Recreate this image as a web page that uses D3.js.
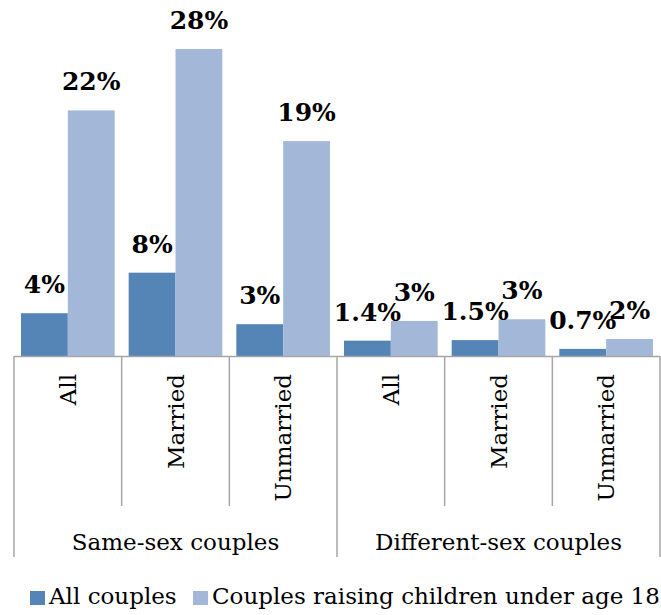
<!DOCTYPE html>
<html>
<head>
<meta charset="utf-8">
<script src="https://cdn.jsdelivr.net/npm/d3@7"></script>
<style>
  body { margin: 0; background: #fff; }
  svg { display: block; }
</style>
</head>
<body>
<div id="chart"></div>
<script>
// groups and categories along the x axis
const groups = ["Same-sex couples", "Different-sex couples"];
const categories = ["All", "Married", "Unmarried", "All", "Married", "Unmarried"];
const seriesNames = ["All couples", "Couples raising children under age 18"];

// bar heights (percent)
const allCouples = [3.9, 7.6, 2.9, 1.4, 1.45, 0.65];
const raisingKids = [22.4, 28.0, 19.6, 3.2, 3.35, 1.55];

// labels printed above the bars
const allLabels = ["4%", "8%", "3%", "1.4%", "1.5%", "0.7%"];
const kidsLabels = ["22%", "28%", "19%", "3%", "3%", "2%"];

const colors = ["#5585b6", "#a3b8d9"];

const width = 661, height = 615;
const left = 14, right = 660, baseY = 356;
const serif = "Georgia, 'DejaVu Serif', serif";

const svg = d3.select("#chart").append("svg")
  .attr("width", width)
  .attr("height", height);

const x0 = d3.scaleBand()
  .domain(d3.range(categories.length))
  .range([left, right]);

const x1 = d3.scaleBand()
  .domain([0, 1])
  .range([7, x0.bandwidth() - 7]);

const y = d3.scaleLinear()
  .domain([0, 28])
  .range([baseY, 49]);

const rows = categories.map((c, i) => ({
  i: i,
  vals: [allCouples[i], raisingKids[i]],
  labs: [allLabels[i], kidsLabels[i]]
}));

const cat = svg.selectAll("g.cat")
  .data(rows)
  .enter()
  .append("g")
  .attr("class", "cat")
  .attr("transform", d => "translate(" + x0(d.i) + ",0)");

cat.selectAll("rect")
  .data(d => d.vals.map((v, s) => ({ v: v, s: s })))
  .enter()
  .append("rect")
  .attr("x", d => x1(d.s))
  .attr("y", d => y(d.v))
  .attr("width", x1.bandwidth())
  .attr("height", d => baseY - y(d.v))
  .attr("fill", d => colors[d.s]);

// value labels
cat.selectAll("text.val")
  .data(d => d.vals.map((v, s) => ({ v: v, s: s, lab: d.labs[s] })))
  .enter()
  .append("text")
  .attr("class", "val")
  .attr("x", d => x1(d.s) + x1.bandwidth() / 2)
  .attr("y", d => y(d.v) - 20)
  .attr("text-anchor", "middle")
  .style("font-family", serif)
  .style("font-weight", "bold")
  .style("font-size", "25px")
  .attr("fill", "#000")
  .text(d => d.lab);

// axis line
const lineColor = "#a6a6a6";
svg.append("line")
  .attr("x1", left).attr("x2", right)
  .attr("y1", baseY + 0.5).attr("y2", baseY + 0.5)
  .attr("stroke", lineColor).attr("stroke-width", 1.5);

// dividers: inner ones short, group boundaries long
d3.range(categories.length + 1).forEach(k => {
  const xx = k < categories.length ? x0(k) : right;
  const outer = k % 3 === 0;
  svg.append("line")
    .attr("x1", xx).attr("x2", xx)
    .attr("y1", baseY).attr("y2", outer ? 557 : 506)
    .attr("stroke", lineColor).attr("stroke-width", 1.5);
});

// category labels, rotated
svg.selectAll("text.cat")
  .data(categories)
  .enter()
  .append("text")
  .attr("class", "cat")
  .attr("transform", (d, i) => "translate(" + (x0(i) + x0.bandwidth() / 2 + 8) + ",374) rotate(-90)")
  .attr("text-anchor", "end")
  .style("font-family", serif)
  .style("font-size", "23px")
  .attr("fill", "#000")
  .text(d => d);

// group labels
svg.selectAll("text.grp")
  .data(groups)
  .enter()
  .append("text")
  .attr("class", "grp")
  .attr("x", (d, g) => (x0(g * 3) + (g === 1 ? right : x0(3))) / 2)
  .attr("y", 550)
  .attr("text-anchor", "middle")
  .style("font-family", serif)
  .style("font-size", "23px")
  .attr("fill", "#000")
  .text(d => d);

// legend
const legendX = [30, 193];
const legend = svg.selectAll("g.leg")
  .data(seriesNames)
  .enter()
  .append("g")
  .attr("class", "leg")
  .attr("transform", (d, i) => "translate(" + legendX[i] + ",591)");

legend.append("rect")
  .attr("width", 15).attr("height", 14)
  .attr("fill", (d, i) => colors[i]);

legend.append("text")
  .attr("x", 19)
  .attr("y", 13)
  .style("font-family", serif)
  .style("font-size", "23px")
  .attr("fill", "#000")
  .text(d => d);
</script>
</body>
</html>
